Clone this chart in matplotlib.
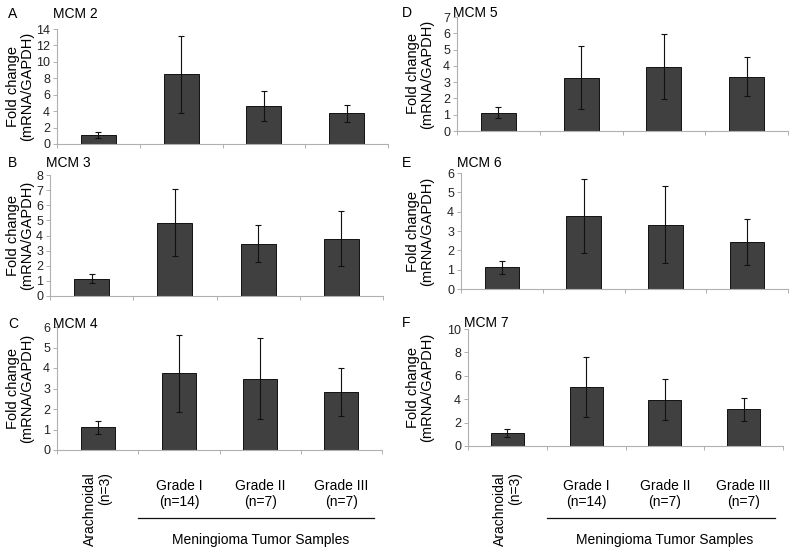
import matplotlib.pyplot as plt
import matplotlib.transforms as mtransforms

plt.rcParams["font.family"] = ["Liberation Sans", "DejaVu Sans"]

# groups along the x axis
groups = ["Arachnoidal", "Grade I", "Grade II", "Grade III"]
group_n = ["(n=3)", "(n=14)", "(n=7)", "(n=7)"]

# fold change (mRNA/GAPDH), mean and error for each MCM gene
mcm2_mean = [1.1, 8.5, 4.6, 3.75]
mcm2_err = [0.33, 4.7, 1.85, 1.05]
mcm3_mean = [1.15, 4.85, 3.45, 3.8]
mcm3_err = [0.3, 2.2, 1.22, 1.83]
mcm4_mean = [1.1, 3.75, 3.47, 2.82]
mcm4_err = [0.32, 1.88, 1.97, 1.18]
mcm5_mean = [1.12, 3.28, 3.95, 3.32]
mcm5_err = [0.33, 1.93, 2.0, 1.2]
mcm6_mean = [1.13, 3.78, 3.32, 2.42]
mcm6_err = [0.33, 1.9, 2.0, 1.18]
mcm7_mean = [1.1, 5.05, 3.95, 3.12]
mcm7_err = [0.35, 2.57, 1.77, 1.02]

W, H = 800, 552
fig = plt.figure(figsize=(W / 100, H / 100), dpi=100)


def px_rect(x0, x1, y0, y1):
    # pixel box (top-left origin) -> figure fraction rect
    return [x0 / W, 1 - y1 / H, (x1 - x0) / W, (y1 - y0) / H]


# letter, title, means, errors, ymax, ystep, axes box, ylabel x, letter x
panels = [
    ("A", "MCM 2", mcm2_mean, mcm2_err, 14, 2, (57, 388, 29, 144), 20, 8),
    ("B", "MCM 3", mcm3_mean, mcm3_err, 8, 1, (50, 383, 175, 296), 20, 8),
    ("C", "MCM 4", mcm4_mean, mcm4_err, 6, 1, (57, 382, 327, 450), 20, 8),
    ("D", "MCM 5", mcm5_mean, mcm5_err, 7, 1, (457, 788, 17, 131), 420, 402),
    ("E", "MCM 6", mcm6_mean, mcm6_err, 6, 1, (461, 788, 173, 289), 420, 402),
    ("F", "MCM 7", mcm7_mean, mcm7_err, 10, 2, (468, 783, 329, 446), 420, 402),
]
title_y = {"A": 18, "B": 167, "C": 328, "D": 17, "E": 167, "F": 327}

axes = {}
for letter, title, mean, err, ymax, ystep, box, ylab_x, let_x in panels:
    x0, x1, y0, y1 = box
    ax = fig.add_axes(px_rect(x0, x1, y0, y1))
    axes[letter] = ax
    pos = range(len(mean))
    ax.bar(pos, mean, width=0.42, color="#404040", edgecolor="#111111",
           linewidth=0.7, zorder=2)
    ax.errorbar(pos, mean, yerr=err, fmt="none", ecolor="#111111",
                elinewidth=0.8, capsize=2, capthick=0.8, zorder=3)
    ax.set_xlim(-0.5, 3.5)
    ax.set_ylim(0, ymax)
    ax.set_yticks(range(0, ymax + 1, ystep))
    ax.set_xticks([-0.5, 0.5, 1.5, 2.5, 3.5])
    ax.set_xticklabels([])
    for s in ["top", "right"]:
        ax.spines[s].set_visible(False)
    for s in ["left", "bottom"]:
        ax.spines[s].set_color("#b0b0b0")
        ax.spines[s].set_linewidth(0.8)
    ax.tick_params(axis="both", direction="out", length=3, width=0.7,
                   color="#b0b0b0", labelsize=9, labelcolor="#222222", pad=2)
    ax.set_facecolor("none")

    # panel letter and title
    fig.text(let_x / W, 1 - title_y[letter] / H, letter, fontsize=10,
             ha="left", va="baseline")
    fig.text((x0 - 4) / W, 1 - title_y[letter] / H, title, fontsize=10,
             ha="left", va="baseline")
    # y label
    fig.text(ylab_x / W, 1 - ((y0 + y1) / 2) / H,
             "Fold change\n(mRNA/GAPDH)", rotation=90, fontsize=10.5,
             ha="center", va="center", linespacing=1.05)

# category labels and tumor bracket under the bottom panels
for letter in ["C", "F"]:
    ax = axes[letter]
    tr = mtransforms.blended_transform_factory(ax.transData, fig.transFigure)
    ax.text(0, 1 - 472 / H, groups[0] + "\n" + group_n[0], rotation=90,
            ha="center", va="top", multialignment="right", fontsize=10,
            transform=tr, linespacing=1.05)
    for i in range(1, 4):
        ax.text(i, 1 - 494 / H, groups[i] + "\n" + group_n[i], ha="center",
                va="center", fontsize=10, transform=tr, linespacing=1.2)
    ax.plot([0.5, 3.4], [1 - 518 / H] * 2, color="#111111", lw=0.9,
            transform=tr, clip_on=False)
    ax.text(2.0, 1 - 540 / H, "Meningioma Tumor Samples", ha="center",
            va="center", fontsize=10, transform=tr)

fig.savefig("out.png", dpi=100)
